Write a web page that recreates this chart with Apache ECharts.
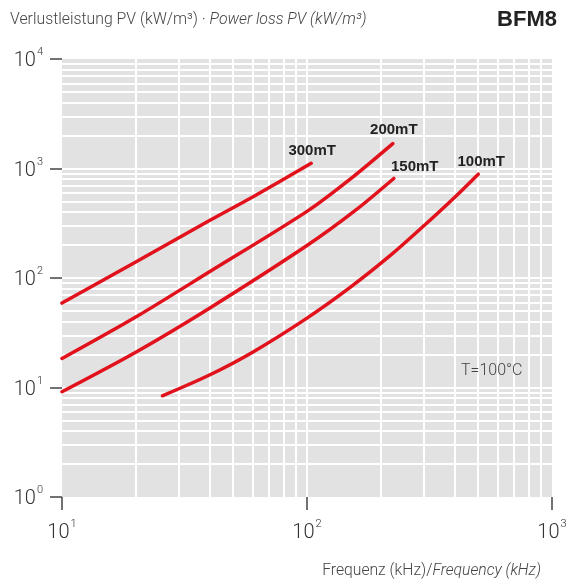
<!DOCTYPE html>
<html>
<head>
<meta charset="utf-8">
<script src="https://cdn.jsdelivr.net/npm/echarts@6/dist/echarts.min.js"></script>
<style>
html,body{margin:0;padding:0;background:#fff;}
#c{width:573px;height:585px;}
</style>
</head>
<body>
<div id="c"></div>
<script>
// ---- data ----
var seriesNames = ['300mT', '200mT', '150mT', '100mT'];
var freq300 = [10, 20, 40, 60, 104];
var loss300 = [59, 140, 335, 550, 1115];
var freq200 = [10, 20, 40, 100, 150, 224];
var loss200 = [18.4, 44, 114, 406, 800, 1690];
var freq150 = [10, 20, 40, 100, 157, 226];
var loss150 = [9.15, 21, 53, 198, 412, 811];
var freq100 = [25.7, 40, 60, 100, 150, 222, 300, 402, 500];
var loss100 = [8.4, 13, 21, 43, 82, 165, 300, 550, 888];
var xGridValues = [20, 30, 40, 50, 60, 70, 80, 90, 100, 200, 300, 400, 500, 600, 700, 800, 900];
var yGridValues = [2, 3, 4, 5, 6, 7, 8, 9, 10, 20, 30, 40, 50, 60, 70, 80, 90, 100,
                   200, 300, 400, 500, 600, 700, 800, 900, 1000, 2000, 3000, 4000, 5000, 6000, 7000, 8000, 9000];
var xTickExp = {10: '1', 100: '2', 1000: '3'};
var yTickExp = {1: '0', 10: '1', 100: '2', 1000: '3', 10000: '4'};

var RED = '#e2121c';
var curves = [
  {name: seriesNames[0], f: freq300, p: loss300, lab: {distance: 4, offset: [1, 0]}},
  {name: seriesNames[1], f: freq200, p: loss200, lab: {distance: 6, offset: [1, 0]}},
  {name: seriesNames[2], f: freq150, p: loss150, lab: {distance: 4, offset: [21, 0]}},
  {name: seriesNames[3], f: freq100, p: loss100, lab: {distance: 4, offset: [3, 0]}}
];

var chart = echarts.init(document.getElementById('c'), null, {renderer: 'canvas'});

var series = [{
  type: 'line', name: 'grid', data: [], z: 1, silent: true,
  markLine: {
    silent: true, symbol: ['none', 'none'], animation: false, z: 1,
    label: {show: false},
    lineStyle: {color: '#ffffff', width: 2, type: 'solid'},
    data: xGridValues.map(function (v) { return {xAxis: v}; })
      .concat(yGridValues.map(function (v) { return {yAxis: v}; }))
  }
}];

curves.forEach(function (c) {
  var data = c.f.map(function (f, i) {
    var item = {value: [f, c.p[i]]};
    if (i === c.f.length - 1) {
      item.label = {
        show: true, position: 'top', distance: c.lab.distance, offset: c.lab.offset,
        formatter: c.name, color: '#222', fontSize: 15, fontWeight: 'bold',
        fontFamily: 'Liberation Sans, Arial, sans-serif'
      };
    }
    return item;
  });
  series.push({
    type: 'line', name: c.name, data: data, z: 10, smooth: 0.3,
    symbol: 'circle', symbolSize: 1, showSymbol: true,
    itemStyle: {color: RED},
    lineStyle: {color: RED, width: 3.5, cap: 'round'},
    label: {show: false},
    animation: false
  });
});

var supRich = {
  b: {fontSize: 20, fontFamily: 'Roboto', fontWeight: 300, color: '#333', padding: [4, 0, 0, 0]},
  s: {fontSize: 11, fontFamily: 'Roboto', fontWeight: 300, color: '#333', verticalAlign: 'top', padding: [0, 0, 8, 1]}
};

chart.setOption({
  animation: false,
  backgroundColor: '#ffffff',
  grid: {left: 62, right: 21, top: 59, bottom: 88, show: true, backgroundColor: '#e2e2e2', borderWidth: 0},
  xAxis: {
    type: 'log', logBase: 10, min: 10, max: 1000,
    axisLine: {show: false},
    axisTick: {show: true, length: 13, lineStyle: {color: '#444', width: 1.5}},
    splitLine: {show: false},
    axisLabel: {
      margin: 22, showMinLabel: true, showMaxLabel: true,
      formatter: function (v) { return '{b|10}{s|' + (xTickExp[Math.round(v)] || '') + '}'; },
      rich: supRich
    }
  },
  yAxis: {
    type: 'log', logBase: 10, min: 1, max: 10000,
    axisLine: {show: false},
    axisTick: {show: true, length: 12, lineStyle: {color: '#444', width: 1.5}},
    splitLine: {show: false},
    axisLabel: {
      margin: 19, showMinLabel: true, showMaxLabel: true,
      formatter: function (v) { return '{b|10}{s|' + (yTickExp[Math.round(v)] || '') + '}'; },
      rich: supRich
    }
  },
  graphic: [
    {
      type: 'text', left: 10, top: 12, silent: true, z: 20,
      style: {
        text: '{n|Verlustleistung PV (kW/m³) · }{i|Power loss PV (kW/m³)}',
        rich: {
          n: {fontSize: 15.8, fontFamily: 'Roboto', fontWeight: 300, fill: '#444'},
          i: {fontSize: 15.8, fontFamily: 'Roboto', fontWeight: 300, fontStyle: 'italic', fill: '#444'}
        }
      }
    },
    {
      type: 'text', right: 16, top: 9, silent: true, z: 20,
      style: {text: 'BFM8', fontSize: 22, fontWeight: 'bold', fontFamily: 'Liberation Sans, Arial, sans-serif', fill: '#222'}
    },
    {
      type: 'text', right: 32, top: 563, silent: true, z: 20,
      style: {
        text: '{n|Frequenz (kHz)/}{i|Frequency (kHz)}',
        rich: {
          n: {fontSize: 15.7, fontFamily: 'Roboto', fontWeight: 300, fill: '#444'},
          i: {fontSize: 15.7, fontFamily: 'Roboto', fontWeight: 300, fontStyle: 'italic', fill: '#444'}
        }
      }
    },
    {
      type: 'text', left: 461, top: 363, silent: true, z: 20,
      style: {text: 'T=100°C', fontSize: 16, fontFamily: 'Roboto', fontWeight: 300, fill: '#444'}
    }
  ],
  series: series
});
</script>
</body>
</html>
